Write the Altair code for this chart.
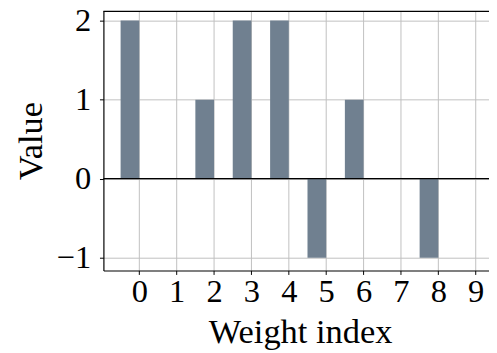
import altair as alt
import pandas as pd

# data
weight_index = [0, 1, 2, 3, 4, 5, 6, 7, 8, 9]
values = [2, 0, 1, 2, 2, -1, 1, 0, -1, 0]
x_ticks = [0, 1, 2, 3, 4, 5, 6, 7, 8, 9]
y_ticks = [-1, 0, 1, 2]

df = pd.DataFrame({"idx": weight_index, "val": values})

W, H = 392, 264
FONT = "Liberation Serif"
FS = 33
TFS = 35

xscale = alt.Scale(domain=[-0.96, 9.356], nice=False, zero=False)
yscale = alt.Scale(domain=[-1.162, 2.124], nice=False, zero=False)

bars = (
    alt.Chart(df)
    .transform_calculate(left="datum.idx - 0.5")
    .mark_bar(color="#708090", opacity=1)
    .encode(
        x=alt.X(
            "left:Q",
            scale=xscale,
            axis=alt.Axis(
                values=x_ticks,
                format="d",
                title="Weight index",
                titleX=200,
                titleY=73,
                titleBaseline="alphabetic",
                titleAlign="center",
                labelPadding=2,
            ),
        ),
        x2="idx:Q",
        y=alt.Y(
            "val:Q",
            scale=yscale,
            axis=alt.Axis(
                values=y_ticks,
                format="d",
                title="Value",
                titleX=-63,
                titleY=132,
                titleAngle=-90,
                titleBaseline="alphabetic",
                titleAlign="center",
                labelPadding=9,
            ),
        ),
        y2=alt.datum(0),
    )
)

zero_line = (
    alt.Chart(pd.DataFrame({"z": [0]}))
    .mark_rule(color="black", strokeWidth=1.2)
    .encode(y=alt.Y("z:Q", scale=yscale))
)

top_frame = (
    alt.Chart(pd.DataFrame({"z": [0]}))
    .mark_rule(color="black", strokeWidth=1.2)
    .encode(y=alt.value(0.5), x=alt.value(0), x2=alt.value(W))
)

chart = (
    alt.layer(bars, zero_line, top_frame)
    .properties(
        width=W,
        height=H,
        autosize=alt.AutoSizeParams(type="none"),
        padding={"left": 97, "top": 0, "right": 0, "bottom": 81},
    )
    .configure_view(stroke=None)
    .configure_axis(
        labelFont=FONT,
        titleFont=FONT,
        labelFontSize=FS,
        titleFontSize=TFS,
        labelColor="black",
        titleColor="black",
        titleFontWeight="normal",
        domainColor="black",
        domainWidth=1.2,
        tickColor="black",
        tickSize=4,
        tickWidth=1,
        grid=True,
        gridColor="#c0c0c0",
        gridWidth=1,
    )
)

chart.save("out.html", embed_options={"renderer": "svg", "actions": False})
